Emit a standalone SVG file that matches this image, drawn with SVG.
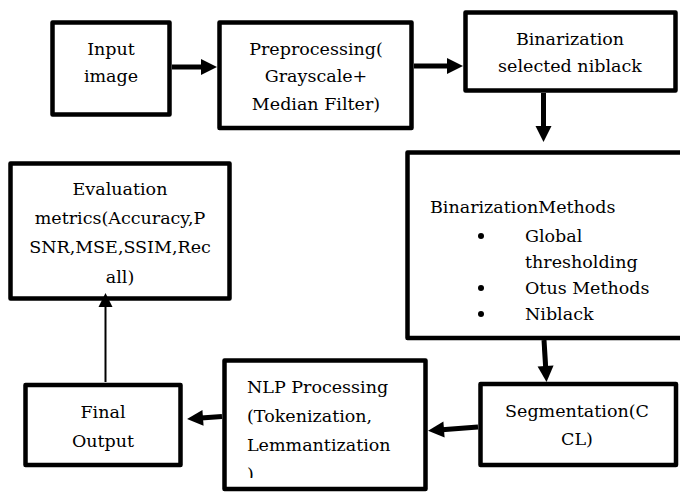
<svg xmlns="http://www.w3.org/2000/svg" width="680" height="492" viewBox="0 0 680 492">
  <style>
    .box { fill: #ffffff; stroke: #000000; stroke-width: 4.5; stroke-linejoin: round; }
    .lbl { font-family: "DejaVu Serif", "Liberation Serif", serif; font-size: 17.5px; fill: #000000; }
    .mid { text-anchor: middle; }
    .thick { stroke: #000000; stroke-width: 5; fill: none; marker-end: url(#headThick); }
    .thin { stroke: #000000; stroke-width: 2; fill: none; marker-end: url(#headThin); }
  </style>
  <defs>
    <marker id="headThick" markerUnits="userSpaceOnUse" markerWidth="16" markerHeight="16" refX="2" refY="8" orient="auto" overflow="visible">
      <path d="M0,0 L16,8 L0,16 Z" fill="#000000"/>
    </marker>
    <marker id="headThin" markerUnits="userSpaceOnUse" markerWidth="14" markerHeight="14" refX="2" refY="7" orient="auto" overflow="visible">
      <path d="M0,0 L14,7 L0,14 Z" fill="#000000"/>
    </marker>
    <clipPath id="nlpClip">
      <rect x="226" y="362" width="198" height="116"/>
    </clipPath>
  </defs>

  <rect width="680" height="492" fill="#ffffff"/>

  <g id="input-image">
    <rect class="box" x="52.5" y="22.5" width="117" height="92"/>
    <text class="lbl mid" x="111" y="55">Input</text>
    <text class="lbl mid" x="111" y="82">image</text>
  </g>

  <g id="preprocessing">
    <rect class="box" x="219.5" y="22.5" width="192" height="105.5"/>
    <text class="lbl mid" x="316" y="55">Preprocessing(</text>
    <text class="lbl mid" x="316" y="82">Grayscale+</text>
    <text class="lbl mid" x="316" y="110">Median Filter)</text>
  </g>

  <g id="binarization">
    <rect class="box" x="465.5" y="12.5" width="210" height="78"/>
    <text class="lbl mid" x="570" y="45">Binarization</text>
    <text class="lbl mid" x="570" y="72">selected niblack</text>
  </g>

  <g id="binarization-methods">
    <rect class="box" x="407.5" y="152.5" width="280" height="185.5"/>
    <text class="lbl" x="430" y="213">BinarizationMethods</text>
    <circle cx="481" cy="236" r="3"/>
    <text class="lbl" x="525" y="242">Global</text>
    <text class="lbl" x="525" y="268">thresholding</text>
    <circle cx="481" cy="288" r="3"/>
    <text class="lbl" x="525" y="294">Otus Methods</text>
    <circle cx="481" cy="314" r="3"/>
    <text class="lbl" x="525" y="320">Niblack</text>
  </g>

  <g id="evaluation">
    <rect class="box" x="10.5" y="163.5" width="219" height="135"/>
    <text class="lbl mid" x="120" y="195">Evaluation</text>
    <text class="lbl mid" x="120" y="224">metrics(Accuracy,P</text>
    <text class="lbl mid" x="120" y="253">SNR,MSE,SSIM,Rec</text>
    <text class="lbl mid" x="120" y="283">all)</text>
  </g>

  <g id="segmentation">
    <rect class="box" x="480.5" y="384" width="195.5" height="81"/>
    <text class="lbl mid" x="577" y="417">Segmentation(C</text>
    <text class="lbl mid" x="577" y="445">CL)</text>
  </g>

  <g id="nlp-processing">
    <rect class="box" x="224.5" y="360.5" width="201" height="128.5"/>
    <g clip-path="url(#nlpClip)">
      <text class="lbl" x="247" y="393">NLP Processing</text>
      <text class="lbl" x="247" y="422">(Tokenization,</text>
      <text class="lbl" x="247" y="451">Lemmantization</text>
      <text class="lbl" x="247" y="480">)</text>
    </g>
  </g>

  <g id="final-output">
    <rect class="box" x="25.5" y="385" width="155" height="80"/>
    <text class="lbl mid" x="103" y="418">Final</text>
    <text class="lbl mid" x="103" y="447">Output</text>
  </g>

  <g id="connectors">
    <line class="thick" x1="172" y1="67" x2="203" y2="67"/>
    <line class="thick" x1="414" y1="66" x2="449" y2="66"/>
    <line class="thick" x1="543.5" y1="93" x2="543.5" y2="128"/>
    <line class="thick" x1="544" y1="340" x2="545.7" y2="368"/>
    <line class="thick" x1="478" y1="427" x2="442" y2="429.7"/>
    <line class="thick" x1="222" y1="416.5" x2="201" y2="418"/>
    <line class="thin" x1="105.5" y1="382" x2="105.5" y2="305"/>
  </g>
</svg>
